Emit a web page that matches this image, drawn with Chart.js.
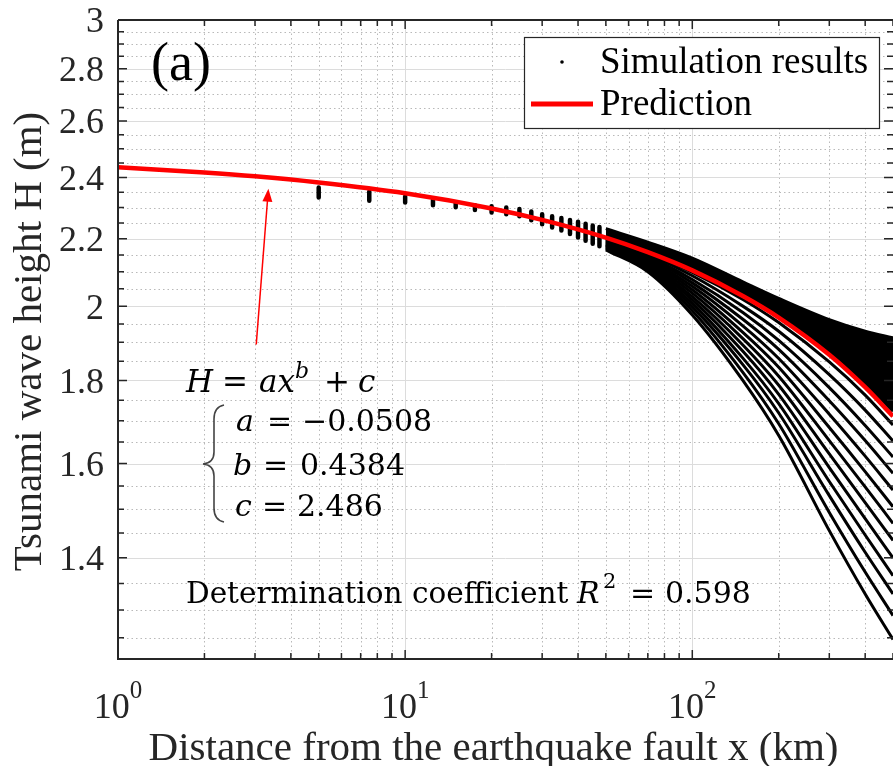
<!DOCTYPE html>
<html>
<head>
<meta charset="utf-8">
<script src="https://cdn.jsdelivr.net/npm/chart.js@4.4.1/dist/chart.umd.min.js"></script>
<style>
  html, body { margin: 0; padding: 0; background: #fff; overflow: hidden; }
  #wrap { width: 893px; height: 766px; }
</style>
</head>
<body>
<div id="wrap"><canvas id="myChart" width="893" height="766"></canvas></div>
<script>

// prediction H = a x^b + c
const predDistance = [1, 2, 3, 5, 10, 20, 30, 50, 70, 100, 150, 200, 300, 400, 500];
const predHeight = [2.435, 2.417, 2.404, 2.383, 2.347, 2.297, 2.260, 2.204, 2.159, 2.104, 2.029, 1.968, 1.867, 1.783, 1.711];

// near the fault the simulation dots pile up into short vertical dashes (top / bottom of each dash)
const nearDistance = [5, 7.5, 10, 12.5, 15, 17.5, 20, 22.5, 25, 27.5, 30, 32.5, 35, 37.5, 40, 42.5, 45, 47.5];
const nearHigh = [2.366, 2.353, 2.336, 2.325, 2.315, 2.307, 2.304, 2.300, 2.295, 2.287, 2.278, 2.272, 2.266, 2.260, 2.254, 2.248, 2.242, 2.237];
const nearLow = [2.333, 2.322, 2.316, 2.307, 2.301, 2.292, 2.284, 2.278, 2.272, 2.259, 2.246, 2.236, 2.226, 2.215, 2.204, 2.194, 2.185, 2.177];

// further out the runs separate
const farDistance = [50, 70, 100, 150, 200, 300, 400, 500];
// upper edge and lower edge of the solid black band above the red line
const bandUpper = [2.232, 2.190, 2.141, 2.070, 2.022, 1.962, 1.930, 1.912];
const bandLower = [2.206, 2.161, 2.106, 2.031, 1.971, 1.873, 1.792, 1.723];
// the separate runs below the red line, top to bottom
const runs = [
    [2.202, 2.156, 2.098, 2.019, 1.954, 1.848, 1.763, 1.690],
    [2.199, 2.152, 2.088, 2.000, 1.930, 1.815, 1.726, 1.652],
    [2.196, 2.147, 2.077, 1.982, 1.905, 1.782, 1.689, 1.615],
    [2.193, 2.142, 2.067, 1.963, 1.881, 1.749, 1.653, 1.578],
    [2.190, 2.137, 2.057, 1.945, 1.857, 1.716, 1.617, 1.541],
    [2.187, 2.133, 2.047, 1.927, 1.834, 1.684, 1.582, 1.505],
    [2.184, 2.128, 2.037, 1.910, 1.811, 1.653, 1.548, 1.470],
    [2.181, 2.124, 2.027, 1.893, 1.788, 1.622, 1.514, 1.435],
    [2.179, 2.120, 2.018, 1.876, 1.765, 1.591, 1.480, 1.400],
    [2.176, 2.115, 2.008, 1.858, 1.742, 1.560, 1.446, 1.365],
    [2.173, 2.111, 1.998, 1.841, 1.719, 1.529, 1.411, 1.330],
    [2.170, 2.106, 1.987, 1.821, 1.693, 1.493, 1.372, 1.290],
    [2.166, 2.100, 1.975, 1.800, 1.665, 1.455, 1.330, 1.247]
];

// ticks
const yTickValues = [1.4, 1.6, 1.8, 2, 2.2, 2.4, 2.6, 2.8, 3];
const yTickLabels = ['1.4', '1.6', '1.8', '2', '2.2', '2.4', '2.6', '2.8', '3'];
const xTickValues = [1, 10, 100];
const xTickPowers = ['0', '1', '2'];

// fitted coefficients shown in the plot
const fitA = '\u22120.0508';
const fitB = '0.4384';
const fitC = '2.486';
const rSquared = '0.598';

const SERIF = '"Liberation Serif", "Times New Roman", serif';
const MATH = '"DejaVu Serif", serif';
const AXIS_COLOR = '#262626';


function toPoints(xs, ys) {
    return xs.map((d, i) => ({ x: d, y: ys[i] }));
}

function yMinorValues() {
    const out = [];
    for (let k = 25; k < 60; k++) {
        if (k % 4 !== 0) out.push(k / 20);
    }
    return out;
}

function xMinorValues() {
    const out = [];
    [1, 10, 100].forEach(dec => {
        for (let m = 2; m <= 9; m++) {
            if (m * dec <= 500) out.push(m * dec);
        }
    });
    return out;
}


// dashes: two points per distance, broken by a null
const nearData = [];
nearDistance.forEach((d, i) => {
    nearData.push({ x: d, y: nearHigh[i] });
    nearData.push({ x: d, y: nearLow[i] });
    nearData.push({ x: d, y: null });
});

const datasets = [];

datasets.push({
    label: 'Prediction',
    data: toPoints(predDistance, predHeight),
    borderColor: '#ff0000',
    borderWidth: 4.5,
    pointRadius: 0,
    cubicInterpolationMode: 'monotone',
    fill: false
});

datasets.push({
    label: 'near',
    data: nearData,
    borderColor: '#000000',
    borderWidth: 4.5,
    borderCapStyle: 'round',
    pointRadius: 0,
    spanGaps: false,
    fill: false
});

datasets.push({
    label: 'bandUpper',
    data: toPoints(farDistance, bandUpper),
    borderColor: '#000000',
    backgroundColor: '#000000',
    borderWidth: 3,
    pointRadius: 0,
    cubicInterpolationMode: 'monotone',
    fill: '+1'
});

datasets.push({
    label: 'bandLower',
    data: toPoints(farDistance, bandLower),
    borderColor: '#000000',
    borderWidth: 3,
    pointRadius: 0,
    cubicInterpolationMode: 'monotone',
    fill: false
});

runs.forEach((run, i) => {
    datasets.push({
        label: 'run' + i,
        data: toPoints(farDistance, run),
        borderColor: '#000000',
        borderWidth: 3,
        pointRadius: 0,
        cubicInterpolationMode: 'monotone',
        fill: false
    });
});


// draws pieces of text at fixed offsets from a start point
function drawPieces(ctx, x0, y0, pieces) {
    pieces.forEach(p => {
        ctx.font = (p.italic ? 'italic ' : '') + p.size + 'px ' + (p.family || MATH);
        ctx.fillText(p.t, x0 + p.dx, y0 + (p.dy || 0));
    });
}

const axesPlugin = {
    id: 'matlabAxes',
    beforeDatasetsDraw(chart) {
        const { ctx, chartArea: a, scales: { x, y } } = chart;
        ctx.save();
        ctx.lineWidth = 1;

        // minor grid, dotted
        ctx.strokeStyle = '#b9b9b9';
        ctx.setLineDash([1.5, 3]);
        ctx.beginPath();
        yMinorValues().forEach(v => {
            const py = Math.round(y.getPixelForValue(v)) + 0.5;
            ctx.moveTo(a.left, py);
            ctx.lineTo(a.right, py);
        });
        xMinorValues().forEach(v => {
            const px = Math.round(x.getPixelForValue(v)) + 0.5;
            ctx.moveTo(px, a.top);
            ctx.lineTo(px, a.bottom);
        });
        ctx.stroke();

        // major grid, solid
        ctx.setLineDash([]);
        ctx.strokeStyle = '#dcdcdc';
        ctx.beginPath();
        yTickValues.forEach(v => {
            const py = Math.round(y.getPixelForValue(v)) + 0.5;
            ctx.moveTo(a.left, py);
            ctx.lineTo(a.right, py);
        });
        xTickValues.forEach(v => {
            const px = Math.round(x.getPixelForValue(v)) + 0.5;
            ctx.moveTo(px, a.top);
            ctx.lineTo(px, a.bottom);
        });
        ctx.stroke();
        ctx.restore();
    },

    afterDatasetsDraw(chart) {
        const { ctx, chartArea: a, scales: { x, y } } = chart;
        ctx.save();

        // box
        ctx.strokeStyle = AXIS_COLOR;
        ctx.lineWidth = 2;
        ctx.beginPath();
        ctx.moveTo(a.left, a.top);
        ctx.lineTo(a.left, a.bottom);
        ctx.lineTo(a.right, a.bottom);
        ctx.moveTo(a.left, a.top);
        ctx.lineTo(a.right, a.top);
        ctx.stroke();

        // tick marks, inward on all four sides
        ctx.lineWidth = 1.5;
        ctx.beginPath();
        const yTick = (v, len) => {
            const py = y.getPixelForValue(v);
            ctx.moveTo(a.left, py); ctx.lineTo(a.left + len, py);
            ctx.moveTo(a.right, py); ctx.lineTo(a.right - len, py);
        };
        const xTick = (v, len) => {
            const px = x.getPixelForValue(v);
            ctx.moveTo(px, a.bottom); ctx.lineTo(px, a.bottom - len);
            ctx.moveTo(px, a.top); ctx.lineTo(px, a.top + len);
        };
        yTickValues.forEach(v => yTick(v, 9));
        yMinorValues().forEach(v => yTick(v, 6));
        xTickValues.forEach(v => xTick(v, 9));
        xMinorValues().forEach(v => xTick(v, 6));
        ctx.stroke();

        // y tick labels
        ctx.fillStyle = AXIS_COLOR;
        ctx.font = '36px ' + SERIF;
        ctx.textAlign = 'right';
        ctx.textBaseline = 'middle';
        yTickValues.forEach((v, i) => {
            ctx.fillText(yTickLabels[i], a.left - 14, y.getPixelForValue(v) + 3);
        });

        // x tick labels 10^n
        ctx.textAlign = 'left';
        ctx.textBaseline = 'alphabetic';
        xTickValues.forEach((v, i) => {
            const px = x.getPixelForValue(v);
            ctx.font = '36px ' + SERIF;
            const wBase = ctx.measureText('10').width;
            ctx.font = '25px ' + SERIF;
            const wPow = ctx.measureText(xTickPowers[i]).width;
            const left = px - (wBase + wPow) / 2;
            ctx.font = '36px ' + SERIF;
            ctx.fillText('10', left, a.bottom + 59);
            ctx.font = '25px ' + SERIF;
            ctx.fillText(xTickPowers[i], left + wBase, a.bottom + 39);
        });

        // axis titles
        ctx.font = '41px ' + SERIF;
        ctx.textAlign = 'center';
        ctx.fillText('Distance from the earthquake fault x (km)', 493.5, a.bottom + 101);
        ctx.save();
        ctx.translate(41, (a.top + a.bottom) / 2 + 2);
        ctx.rotate(-Math.PI / 2);
        ctx.fillText('Tsunami wave height H (m)', 0, 0);
        ctx.restore();

        // panel letter
        ctx.fillStyle = '#000000';
        ctx.textAlign = 'left';
        ctx.font = '54px ' + SERIF;
        ctx.fillText('(a)', a.left + 33, a.top + 60);

        // legend
        const lx = a.right - 369, ly = a.top + 17, lw = 355, lh = 91;
        ctx.fillStyle = '#ffffff';
        ctx.fillRect(lx, ly, lw, lh);
        ctx.strokeStyle = AXIS_COLOR;
        ctx.lineWidth = 1.2;
        ctx.strokeRect(lx + 0.5, ly + 0.5, lw, lh);
        ctx.fillStyle = '#000000';
        ctx.beginPath();
        ctx.arc(lx + 38, ly + 25, 1.8, 0, Math.PI * 2);
        ctx.fill();
        ctx.strokeStyle = '#ff0000';
        ctx.lineWidth = 5;
        ctx.beginPath();
        ctx.moveTo(lx + 7, ly + 67);
        ctx.lineTo(lx + 69, ly + 67);
        ctx.stroke();
        ctx.font = '37px ' + SERIF;
        ctx.fillText('Simulation results', lx + 76, ly + 36);
        ctx.fillText('Prediction', lx + 76, ly + 78);

        // arrow pointing at the fitted curve
        const tailX = x.getPixelForValue(3.03), tailY = y.getPixelForValue(1.894);
        const tipX = x.getPixelForValue(3.34), tipY = y.getPixelForValue(2.362);
        const ang = Math.atan2(tipY - tailY, tipX - tailX);
        ctx.strokeStyle = '#ff0000';
        ctx.fillStyle = '#ff0000';
        ctx.lineWidth = 1.5;
        ctx.beginPath();
        ctx.moveTo(tailX, tailY);
        ctx.lineTo(tipX - 10 * Math.cos(ang), tipY - 10 * Math.sin(ang));
        ctx.stroke();
        ctx.beginPath();
        ctx.moveTo(tipX, tipY);
        ctx.lineTo(tipX - 13 * Math.cos(ang) + 5 * Math.sin(ang), tipY - 13 * Math.sin(ang) - 5 * Math.cos(ang));
        ctx.lineTo(tipX - 13 * Math.cos(ang) - 5 * Math.sin(ang), tipY - 13 * Math.sin(ang) + 5 * Math.cos(ang));
        ctx.closePath();
        ctx.fill();

        // fitted equation
        ctx.fillStyle = '#000000';
        const ex = a.left + 68;
        drawPieces(ctx, ex, 392, [
            { t: 'H', dx: 0, size: 31, italic: true },
            { t: '=', dx: 36, size: 31 },
            { t: 'ax', dx: 73, size: 31, italic: true },
            { t: 'b', dx: 109, size: 22, italic: true, dy: -14 },
            { t: '+', dx: 138, size: 31 },
            { t: 'c', dx: 172, size: 31, italic: true }
        ]);
        drawPieces(ctx, a.left + 118, 431, [
            { t: 'a', dx: 0, size: 30, italic: true },
            { t: '=', dx: 31, size: 30 },
            { t: fitA, dx: 66, size: 30 }
        ]);
        drawPieces(ctx, a.left + 115, 475, [
            { t: 'b', dx: 0, size: 30, italic: true },
            { t: '=', dx: 30, size: 30 },
            { t: fitB, dx: 67, size: 30 }
        ]);
        drawPieces(ctx, a.left + 117, 516, [
            { t: 'c', dx: 0, size: 30, italic: true },
            { t: '=', dx: 27, size: 30 },
            { t: fitC, dx: 62, size: 30 }
        ]);

        // curly brace
        const bx = a.left + 88, bTop = 405, bMid = 464, bBot = 522;
        ctx.strokeStyle = '#444444';
        ctx.lineWidth = 1.6;
        ctx.beginPath();
        ctx.moveTo(bx + 18, bTop);
        ctx.quadraticCurveTo(bx + 8, bTop + 2, bx + 8, bTop + 14);
        ctx.lineTo(bx + 8, bMid - 12);
        ctx.quadraticCurveTo(bx + 8, bMid - 1, bx - 3, bMid);
        ctx.quadraticCurveTo(bx + 8, bMid + 1, bx + 8, bMid + 12);
        ctx.lineTo(bx + 8, bBot - 14);
        ctx.quadraticCurveTo(bx + 8, bBot - 2, bx + 18, bBot);
        ctx.stroke();

        // determination coefficient
        drawPieces(ctx, a.left + 68, 603, [
            { t: 'Determination coefficient', dx: 0, size: 29.5 },
            { t: 'R', dx: 391, size: 30, italic: true },
            { t: '2', dx: 417, size: 21, dy: -15 },
            { t: '=', dx: 444, size: 30 },
            { t: rSquared, dx: 479, size: 30 }
        ]);

        ctx.restore();
    }
};


const ctx = document.getElementById('myChart').getContext('2d');
const myChart = new Chart(ctx, {
    type: 'line',
    data: { datasets: datasets },
    options: {
        responsive: false,
        animation: false,
        devicePixelRatio: 1,
        layout: { padding: { left: 118, top: 20, right: 0, bottom: 107 } },
        scales: {
            x: { type: 'logarithmic', min: 1, max: 500, display: false },
            y: { type: 'logarithmic', min: 1.213, max: 3, display: false }
        },
        plugins: {
            legend: { display: false },
            tooltip: { enabled: false }
        }
    },
    plugins: [axesPlugin]
});

</script>
</body>
</html>
